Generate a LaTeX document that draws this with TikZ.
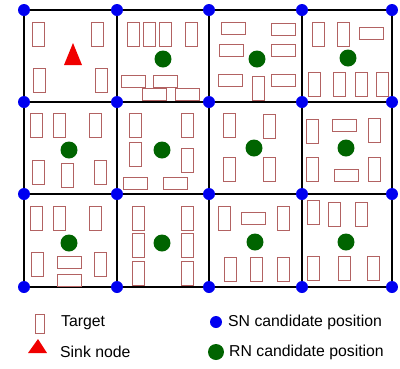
\documentclass[tikz,border=0pt]{standalone}
\usepackage{fontspec}
\setmainfont{Liberation Sans}
\definecolor{tgtred}{RGB}{178,98,98}
\definecolor{sinkred}{RGB}{240,0,0}
\definecolor{rngreen}{RGB}{0,100,0}
\definecolor{snblue}{RGB}{0,0,240}

\begin{document}
\begin{tikzpicture}[x=1pt,y=-1pt,
  tgt/.style={draw=tgtred,line width=1pt},
  sink/.style={fill=sinkred},
  sn/.style={fill=snblue},
  rn/.style={fill=rngreen},
  lbl/.style={anchor=west,inner sep=0pt,font=\fontsize{15.8}{18}\selectfont}]
  \useasboundingbox (0,0) rectangle (400,368);

  % Grid corners
  \foreach \x [count=\i] in {24,117,209,302,392}
    \foreach \y [count=\j] in {10,102,194,287}
      \coordinate (g\i\j) at (\x,\y);

  % Cell borders
  \foreach \j in {1,...,4}
    \draw[line width=1.3pt] (g1\j) -- (g5\j);
  \foreach \i in {1,...,5}
    \draw[line width=1.3pt] (g\i1) -- (g\i4);

  % Targets, upright
  \foreach \x/\y in {32/22, 91/22, 33/68, 95/68,
                     127/22, 143/22, 159/22, 185/22,
                     252/76,
                     312/22, 337/22, 308/72, 333/72, 355/72, 376/72,
                     30/113, 53/113, 89/113, 32/160, 61/163, 94/160,
                     129/113, 181/113, 129/142, 181/148,
                     223/113, 263/114, 223/157, 263/157,
                     306/119, 368/118, 306/157, 368/157,
                     30/206, 53/206, 89/206, 31/252, 94/252,
                     132/206, 132/233, 132/261, 181/206, 181/233, 181/261,
                     218/206, 277/206, 224/257, 250/257, 277/257,
                     307/200, 328/202, 355/202, 307/256, 338/256, 367/256}
    \draw[tgt] (\x,\y) rectangle +(12,24);

  % Targets, lying
  \foreach \x/\y in {121/75, 153/75, 142/88, 175/88,
                     221/22, 271/23, 219/44, 271/44, 218/74, 271/74,
                     359/27,
                     123/177, 163/177,
                     332/119, 334/169,
                     57/256, 57/274,
                     241/212}
    \draw[tgt] (\x,\y) rectangle +(24,12);

  % Sink node
  \fill[sink] (73,43) -- (82,65) -- (64,65) -- cycle;

  % RN candidate positions
  \foreach \x/\y in {163/59, 257/59, 348/58,
                     69/150, 162/150, 254/148, 346/148,
                     69/243, 162/243, 255/242, 346/242}
    \fill[rn] (\x,\y) circle (8.5);

  % SN candidate positions
  \foreach \i in {1,...,5}
    \foreach \j in {1,...,4}
      \fill[sn] (g\i\j) circle (6);

  % Legend
  \draw[tgt] (35,314) rectangle (44,333);
  \node[lbl] (lgd-target) at (61,323) {Target};
  \fill[sink] (38,339) -- (47,353) -- (28,353) -- cycle;
  \node[lbl] (lgd-sink) at (60,352) {Sink node};
  \fill[sn] (216,322) circle (6);
  \node[lbl] (lgd-sn) at (228,322) {SN candidate position};
  \fill[rn] (216,352) circle (8);
  \node[lbl] (lgd-rn) at (229,352) {RN candidate position};
\end{tikzpicture}
\end{document}
